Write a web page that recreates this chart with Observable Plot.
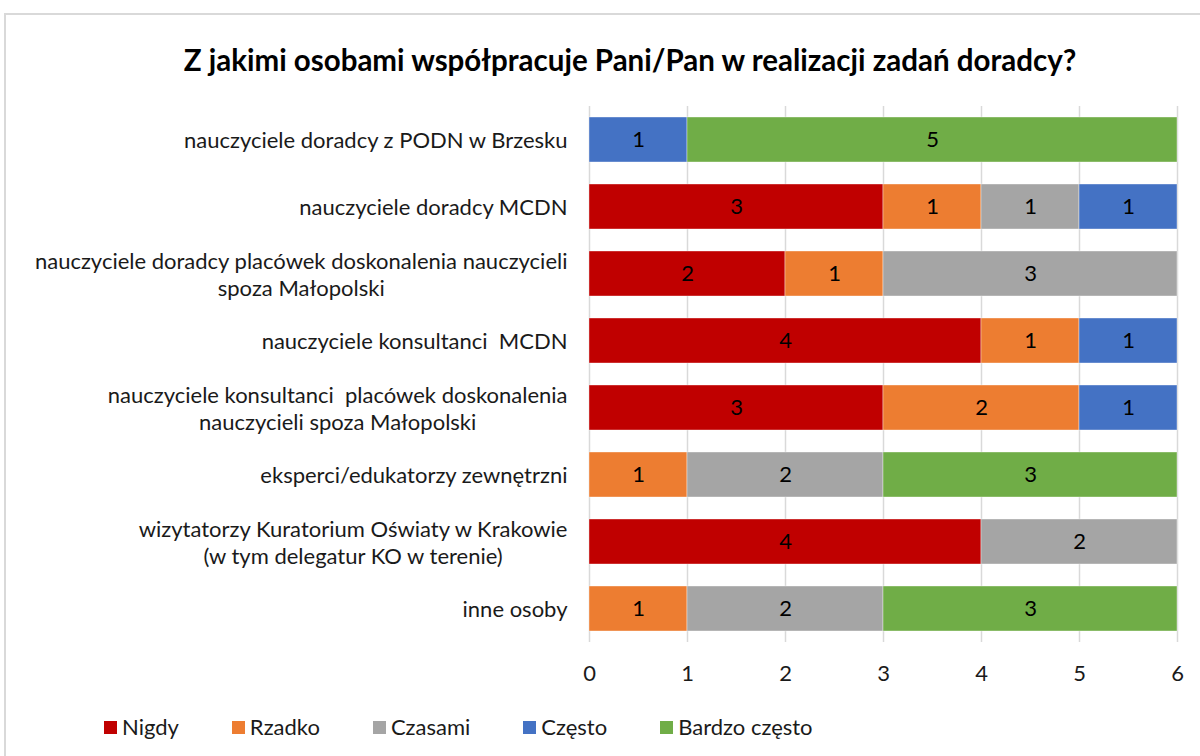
<!DOCTYPE html>
<html>
<head>
<meta charset="utf-8">
<script src="https://cdn.jsdelivr.net/npm/d3@7"></script>
<script src="https://cdn.jsdelivr.net/npm/@observablehq/plot@0.6"></script>
<style>
  html, body { margin: 0; padding: 0; background: #fff; }
  body { width: 1200px; height: 756px; position: relative; overflow: hidden; font-family: Lato, "Noto Sans", sans-serif; }
  #frame { position: absolute; left: 4px; top: 13px; width: 1260px; height: 800px; border: 2px solid #d9d9d9; box-sizing: border-box; }
  #title { position: absolute; left: 0; top: 41px; width: 1260px; text-align: center; font-weight: 700; font-size: 29.5px; line-height: 38px; color: #000; }
  #chart { position: absolute; left: 0; top: 90px; }
  #legend { position: absolute; left: 104px; top: 713px; display: flex; align-items: center; gap: 53px; font-size: 22px; color: #1a1a1a; line-height: 28px; }
  .item { display: flex; align-items: center; gap: 5px; }
  .sw { width: 13px; height: 13px; display: inline-block; }
  #chart text { white-space: pre; }
</style>
</head>
<body>
<div id="frame"></div>
<div id="title">Z jakimi osobami współpracuje Pani/Pan w realizacji zadań doradcy?</div>
<div id="chart"></div>
<div id="legend"></div>
<script>
const categories = [
  "nauczyciele doradcy z PODN w Brzesku",
  "nauczyciele doradcy MCDN",
  "nauczyciele doradcy placówek doskonalenia nauczycieli\nspoza Małopolski",
  "nauczyciele konsultanci  MCDN",
  "nauczyciele konsultanci  placówek doskonalenia\nnauczycieli spoza Małopolski",
  "eksperci/edukatorzy zewnętrzni",
  "wizytatorzy Kuratorium Oświaty w Krakowie\n(w tym delegatur KO w terenie)",
  "inne osoby"
];
const seriesNames = ["Nigdy", "Rzadko", "Czasami", "Często", "Bardzo często"];
const seriesColors = ["#C00000", "#ED7D31", "#A5A5A5", "#4472C4", "#70AD47"];
const nigdy        = [0, 3, 2, 4, 3, 0, 4, 0];
const rzadko       = [0, 1, 1, 1, 2, 1, 0, 1];
const czasami      = [0, 1, 3, 0, 0, 2, 2, 2];
const czesto       = [1, 1, 0, 1, 1, 0, 0, 0];
const bardzoCzesto = [5, 0, 0, 0, 0, 3, 0, 3];
const xTicks = [0, 1, 2, 3, 4, 5, 6];

const seriesValues = [nigdy, rzadko, czasami, czesto, bardzoCzesto];
const data = [];
categories.forEach((c, i) => {
  seriesNames.forEach((s, j) => {
    const v = seriesValues[j][i];
    if (v > 0) data.push({category: c, series: s, value: v});
  });
});

const plot = Plot.plot({
  width: 1200,
  height: 610,
  marginLeft: 589,
  marginRight: 23,
  marginTop: 16,
  marginBottom: 58,
  style: {fontFamily: "Lato, 'Noto Sans', sans-serif", fontSize: "22px", color: "#1a1a1a", background: "transparent"},
  x: {domain: [0, 6], ticks: xTicks, label: null},
  y: {domain: categories, paddingInner: 0.33, paddingOuter: 0.165, label: null},
  color: {domain: seriesNames, range: seriesColors},
  marks: [
    Plot.gridX(xTicks, {stroke: "#d9d9d9", strokeOpacity: 1, strokeWidth: 1.5}),
    Plot.barX(data, Plot.stackX({x: "value", y: "category", fill: "series", z: "series", order: seriesNames, stroke: "white", strokeWidth: 0.75, strokeOpacity: 0.5})),
    Plot.text(data, Plot.stackX({x: "value", y: "category", z: "series", order: seriesNames, text: d => String(d.value), fill: "#000", fontSize: 22})),
    Plot.axisX({ticks: xTicks, tickFormat: d3.format("d"), tickSize: 0, tickPadding: 23, fontSize: 22, anchor: "bottom", label: null}),
    Plot.axisY({tickSize: 0, tickPadding: 22, fontSize: 22, lineHeight: 1.2, textAnchor: "end", label: null})
  ]
});
document.getElementById("chart").appendChild(plot);

// center multi-line category labels like the original (lines centered within the label block)
plot.querySelectorAll('g[aria-label="y-axis tick label"] text').forEach(t => {
  const spans = t.querySelectorAll("tspan");
  if (spans.length > 1) {
    let maxW = 0;
    spans.forEach(s => { maxW = Math.max(maxW, s.getComputedTextLength()); });
    t.setAttribute("text-anchor", "middle");
    spans.forEach(s => s.setAttribute("x", -maxW / 2));
  }
});

// legend
const legend = document.getElementById("legend");
seriesNames.forEach((s, j) => {
  const item = document.createElement("div");
  item.className = "item";
  const sw = document.createElement("span");
  sw.className = "sw";
  sw.style.background = seriesColors[j];
  const label = document.createElement("span");
  label.textContent = s;
  item.appendChild(sw);
  item.appendChild(label);
  legend.appendChild(item);
});
</script>
</body>
</html>
